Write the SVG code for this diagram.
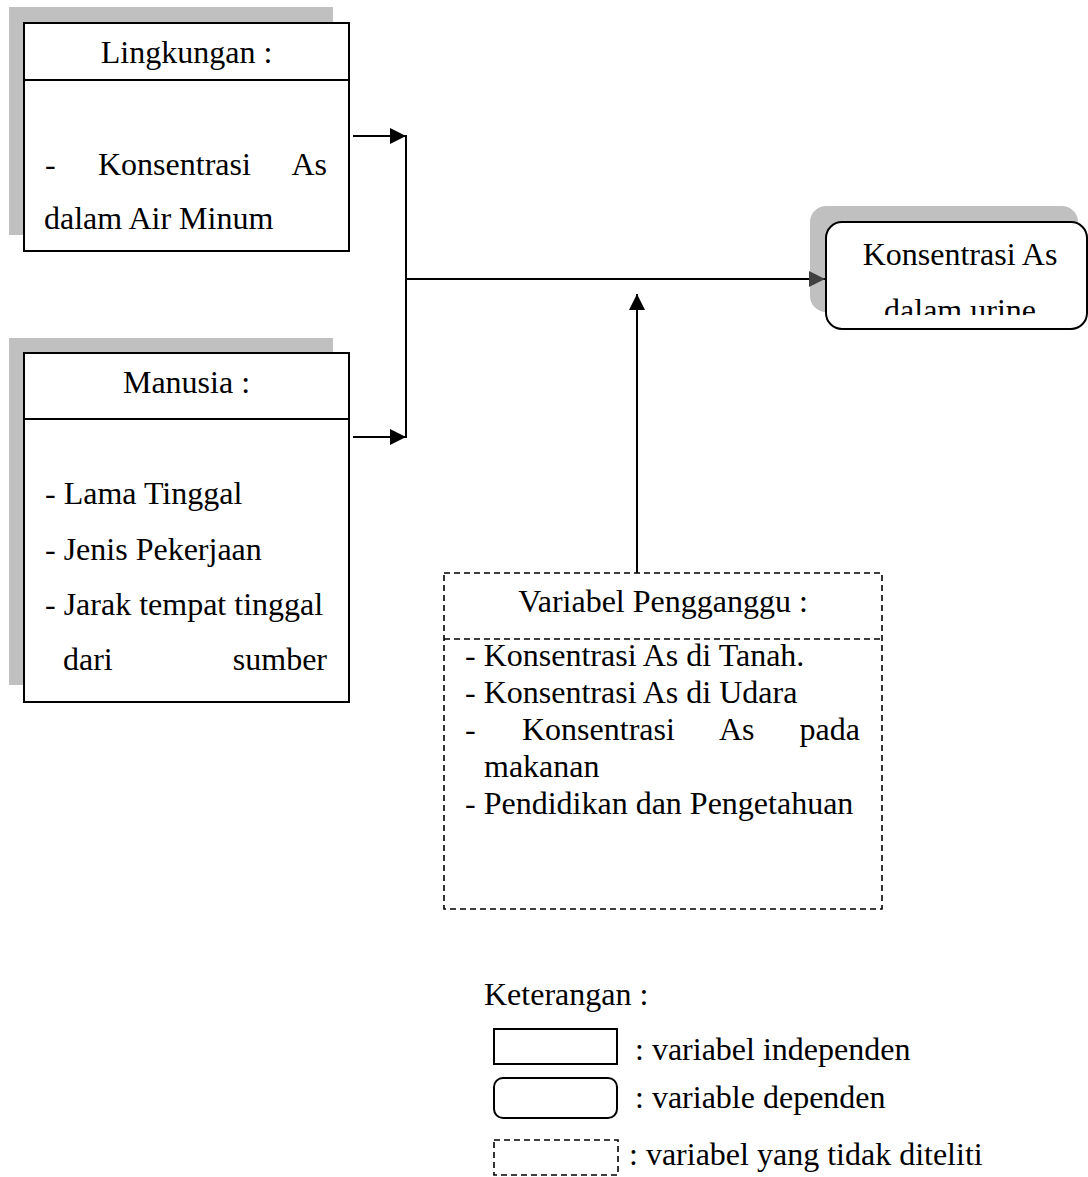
<svg xmlns="http://www.w3.org/2000/svg" width="1088" height="1177" viewBox="0 0 1088 1177">
<style>
text{font-family:'Liberation Serif','DejaVu Serif',serif;font-size:32px;fill:#000}
.box{fill:#fff;stroke:#000;stroke-width:2}
.shadow{fill:#c0c0c0;stroke:none}
.dash{fill:none;stroke:#000;stroke-width:1.6;stroke-dasharray:6 4}
.line{fill:none;stroke:#000;stroke-width:2}
.c{text-anchor:middle}
.e{text-anchor:end}
</style>
<defs>
<marker id="ah" viewBox="0 0 16 16" refX="16" refY="8" markerWidth="16" markerHeight="16" markerUnits="userSpaceOnUse" orient="auto">
<path d="M0,0 L16,8 L0,16 Z" fill="#000"/>
</marker>
<marker id="ahg" viewBox="0 0 16 16" refX="16" refY="8" markerWidth="16" markerHeight="16" markerUnits="userSpaceOnUse" orient="auto">
<path d="M0,0 L16,8 L0,16 Z" fill="#404040"/>
</marker>
<clipPath id="clipR"><rect x="826" y="223" width="262" height="92"/></clipPath>
</defs>

<g id="lingkungan">
<rect class="shadow" x="9" y="7" width="324" height="228"/>
<rect class="box" x="24" y="23" width="325" height="228"/>
<line class="line" x1="24" y1="80" x2="349" y2="80"/>
<text class="c" x="186.5" y="63">Lingkungan :</text>
<text x="45" y="175">-</text>
<text x="98" y="175">Konsentrasi</text>
<text class="e" x="327" y="175">As</text>
<text x="44" y="229">dalam Air Minum</text>
</g>

<g id="manusia">
<rect class="shadow" x="9" y="338" width="324" height="347"/>
<rect class="box" x="24" y="353" width="325" height="349"/>
<line class="line" x1="24" y1="419" x2="349" y2="419"/>
<text class="c" x="186.5" y="393">Manusia :</text>
<text x="45" y="504">- Lama Tinggal</text>
<text x="45" y="560">- Jenis Pekerjaan</text>
<text x="45" y="615">- Jarak tempat tinggal</text>
<text x="63" y="670">dari</text>
<text class="e" x="327" y="670">sumber</text>
</g>

<g id="dependen">
<rect class="shadow" x="810" y="206" width="268" height="106" rx="16"/>
<rect class="box" x="826" y="222" width="261" height="107" rx="16"/>
<g clip-path="url(#clipR)">
<text class="c" x="960" y="265">Konsentrasi As</text>
<text class="c" x="960" y="321">dalam urine</text>
</g>
</g>

<g id="pengganggu">
<rect class="dash" x="444" y="573" width="438" height="336"/>
<line class="dash" x1="444" y1="639" x2="882" y2="639"/>
<text class="c" x="663" y="612">Variabel Pengganggu :</text>
<text x="465" y="666">- Konsentrasi As di Tanah.</text>
<text x="465" y="703">- Konsentrasi As di Udara</text>
<text x="465" y="740">-</text>
<text x="522" y="740">Konsentrasi</text>
<text x="719" y="740">As</text>
<text class="e" x="860" y="740">pada</text>
<text x="484" y="777">makanan</text>
<text x="465" y="814">- Pendidikan dan Pengetahuan</text>
</g>

<g id="connectors">
<line class="line" x1="353" y1="136" x2="406" y2="136" marker-end="url(#ah)"/>
<line class="line" x1="353" y1="437" x2="406" y2="437" marker-end="url(#ah)"/>
<line class="line" x1="406" y1="135" x2="406" y2="438"/>
<line class="line" x1="405" y1="279" x2="825" y2="279" marker-end="url(#ahg)"/>
<line class="line" x1="637" y1="573" x2="637" y2="294" marker-end="url(#ah)"/>
</g>

<g id="legend">
<text x="484" y="1005">Keterangan :</text>
<rect class="box" x="494" y="1029" width="123" height="35"/>
<text x="635" y="1060">: variabel independen</text>
<rect class="box" x="494" y="1078" width="123" height="40" rx="9"/>
<text x="635" y="1108">: variable dependen</text>
<rect class="dash" x="494" y="1140" width="124" height="35"/>
<text x="629" y="1165">: variabel yang tidak diteliti</text>
</g>
</svg>
